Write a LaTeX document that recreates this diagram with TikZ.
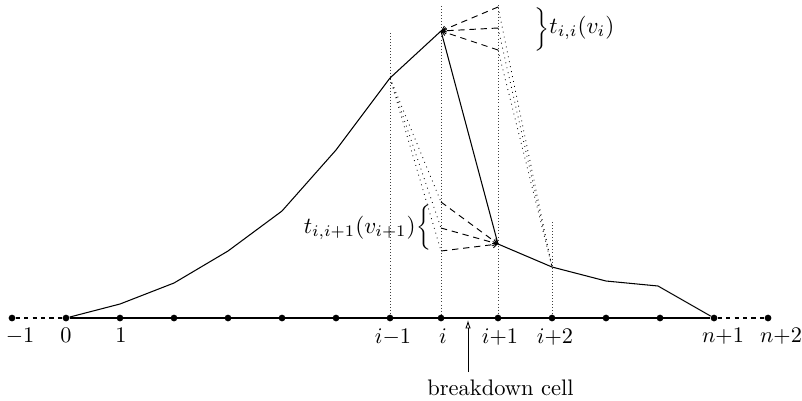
\documentclass[tikz,border=0pt]{standalone}
\usetikzlibrary{arrows.meta}
\begin{document}
\begin{tikzpicture}[x=0.476pt,y=-0.476pt,
  dotnode/.style={circle,fill=black,inner sep=0pt,minimum size=3.2pt},
  lab/.style={inner sep=0pt,scale=1.06},
  blab/.style={inner sep=0pt,scale=1.1},
  txt/.style={inner sep=0pt,scale=1.07},
  guide/.style={densely dotted,line width=0.45pt,black!75},
  fan/.style={dash pattern=on 3pt off 2.3pt,line width=0.45pt,-{Straight Barb[length=2pt,width=3pt]}},
  ray/.style={dotted,line width=0.4pt},
  curve/.style={line width=0.5pt}]
\useasboundingbox (0,0) rectangle (802,400);
% axis dots
\foreach \nm/\x in {m1/12,z/66,o/120,p2/174,p3/228,p4/282,p5/336,im/390,i/441,ip/498,ipp/552,q1/606,q2/660,np/714,npp/768}
  \node[dotnode] (d\nm) at (\x,318) {};
% axis
\draw[line width=0.5pt,dash pattern=on 2pt off 2pt] (dm1) -- (dz);
\draw[line width=0.5pt] (dz) -- (dnp);
\draw[line width=0.5pt,dash pattern=on 2pt off 2pt] (dnp) -- (dnpp);
\draw[line width=1.3pt] (di) -- (dip);
% axis labels
\node[lab,anchor=north] (lm1) at (20,328) {$-1$};
\node[lab,anchor=north] (lz) at (66,328) {$0$};
\node[lab,anchor=north] (lo) at (121,328) {$1$};
\node[lab,anchor=north] (lim) at (393,328) {$i{-}1$};
\node[lab,anchor=north] (li) at (443,328) {$i$};
\node[lab,anchor=north] (lip) at (500,328) {$i{+}1$};
\node[lab,anchor=north] (lipp) at (555,328) {$i{+}2$};
\node[lab,anchor=north] (lnp) at (723,328) {$n{+}1$};
\node[lab,anchor=north] (lnpp) at (781,328) {$n{+}2$};
% curve points
\coordinate (c1) at (120,304);
\coordinate (c2) at (174,283);
\coordinate (c3) at (228,251);
\coordinate (c4) at (282,211);
\coordinate (c5) at (336,150);
\coordinate (cim) at (390,78);
\coordinate (ci) at (441,31);
\coordinate (cip) at (498,244);
\coordinate (cipp) at (552,267);
\coordinate (c6) at (606,281);
\coordinate (c7) at (658,286);
% vertical guides
\coordinate (tim) at (390,33);
\coordinate (ti) at (441,6);
\coordinate (tip) at (498,5);
\coordinate (tipp) at (552,222);
\draw[guide] (tim) -- (dim);
\draw[guide] (ti) -- (di);
\draw[guide] (tip) -- (dip);
\draw[guide] (tipp) -- (dipp);
% main curve
\draw[curve] (dz) -- (c1) -- (c2) -- (c3) -- (c4) -- (c5) -- (cim) -- (ci) -- (cip) -- (cipp) -- (c6) -- (c7) -- (dnp);
% fan end points
\coordinate (u1) at (498,7);
\coordinate (u2) at (498,28);
\coordinate (u3) at (498,50);
\coordinate (l1) at (441,202);
\coordinate (l2) at (441,228);
\coordinate (l3) at (441,251);
% dashed fans
\foreach \k in {1,2,3} {
  \draw[fan] (u\k) -- (ci);
  \draw[fan] (l\k) -- (cip);
  \draw[ray] (cim) -- (l\k);
  \draw[ray] (u\k) -- (cipp);
}
% brace labels
\node[inner sep=0pt] (bu) at (541.5,29) {\scalebox{0.95}[0.86]{$\bigg\}$}};
\node[blab,anchor=west] (tu) at (549,28) {$t_{i,i}(v_i)$};
\node[inner sep=0pt] (bl) at (424,227.5) {\scalebox{0.95}[0.9]{$\bigg\{$}};
\node[blab,anchor=east] (tl) at (416,228) {$t_{i,i+1}(v_{i+1})$};
% breakdown cell
\node[txt] (bc) at (500.5,388) {breakdown cell};
\coordinate (bcs) at (468,372);
\coordinate (bcm) at (468,320);
\draw[line width=0.4pt,-{Latex[open,length=4pt,width=2.6pt]}] (bcs) -- (bcm);
\end{tikzpicture}
\end{document}
